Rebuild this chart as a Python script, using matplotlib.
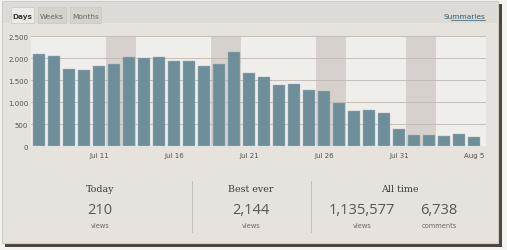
import matplotlib.pyplot as plt
import matplotlib.patches as mpatches
import numpy as np

# daily views, Jul 7 .. Aug 5
days = ["Jul 7", "Jul 8", "Jul 9", "Jul 10", "Jul 11", "Jul 12", "Jul 13", "Jul 14",
        "Jul 15", "Jul 16", "Jul 17", "Jul 18", "Jul 19", "Jul 20", "Jul 21", "Jul 22",
        "Jul 23", "Jul 24", "Jul 25", "Jul 26", "Jul 27", "Jul 28", "Jul 29", "Jul 30",
        "Jul 31", "Aug 1", "Aug 2", "Aug 3", "Aug 4", "Aug 5"]
views = [2090, 2052, 1740, 1725, 1824, 1862, 2014, 1999, 2014, 1938,
         1938, 1809, 1854, 2144, 1660, 1566, 1383, 1406, 1269, 1254,
         988, 790, 821, 760, 388, 243, 251, 236, 266, 210]
weekend_days = ["Jul 12", "Jul 13", "Jul 19", "Jul 20", "Jul 26", "Jul 27", "Aug 1", "Aug 2"]
tick_days = ["Jul 11", "Jul 16", "Jul 21", "Jul 26", "Jul 31", "Aug 5"]
y_ticks = [0, 500, 1000, 1500, 2000, 2500]
y_labels = ["0", "500", "1.000", "1.500", "2.000", "2.500"]

tabs = ["Days", "Weeks", "Months"]
stat_heads = ["Today", "Best ever", "All time"]
stat_values = ["210", "2,144", "1,135,577", "6,738"]
stat_units = ["views", "views", "views", "comments"]

W, H = 507, 251
bg = "#e6e3de"
plot_bg = "#f0eeeb"
bar_color = "#6e8e9a"
shade = "#d6d1cc"
text_c = "#555049"

fig = plt.figure(figsize=(W / 100, H / 100), dpi=100)
fig.patch.set_facecolor("#f4f3f1")


def px_rect(x0, y0, x1, y1, **kw):
    # rectangle in pixel coords measured from the top-left corner
    r = mpatches.Rectangle((x0 / W, 1 - y1 / H), (x1 - x0) / W, (y1 - y0) / H,
                           transform=fig.transFigure, **kw)
    fig.add_artist(r)
    return r


def px_text(x, y, s, **kw):
    fig.text(x / W, 1 - y / H, s, **kw)


# panel with dark shadow on right/bottom
px_rect(5, 5, 502, 248, facecolor="#4a4540", edgecolor="none", zorder=0)
px_rect(2, 2, 498, 244, facecolor=bg, edgecolor="#cfcac4", linewidth=0.8, zorder=1)
# tab bar
px_rect(3, 3, 497, 24, facecolor="#dedad5", edgecolor="none", zorder=1)
tab_x = [(11, 34), (38, 66), (70, 101)]
for (x0, x1), name in zip(tab_x, tabs):
    fc = "#eeebe7" if name == "Days" else "#d6d2cc"
    px_rect(x0, 8, x1, 24, facecolor=fc, edgecolor="#cbc6c0", linewidth=0.5, zorder=2)
    px_text((x0 + x1) / 2, 17, name, ha="center", va="center", fontsize=5.3,
            color="#3e3a36" if name == "Days" else "#6b6660",
            fontweight="bold" if name == "Days" else "normal", zorder=3)
px_text(485, 17, "Summaries", ha="right", va="center", fontsize=5.3,
        color="#2f5a6e", zorder=3)
fig.add_artist(plt.Line2D([451 / W, 485 / W], [1 - 20.5 / H] * 2,
                          transform=fig.transFigure, color="#2f5a6e", linewidth=0.5, zorder=3))

# bar chart
ax = fig.add_axes([31 / W, 1 - 147 / H, (486 - 31) / W, (147 - 37) / H])
ax.set_zorder(2)
ax.set_facecolor(plot_bg)
x = np.arange(len(days))
for d in weekend_days:
    i = days.index(d)
    ax.axvspan(i - 0.5, i + 0.5, color=shade, linewidth=0, zorder=0)
for t in y_ticks[1:]:
    ax.axhline(t, color="#bfb8b0", linewidth=0.6, zorder=1)
ax.bar(x, views, width=0.86, color=bar_color, edgecolor="#9fb4bc", linewidth=0.3, zorder=2)
ax.set_xlim(-0.53, len(days) - 0.2)
ax.set_ylim(0, 2500)
ax.set_yticks(y_ticks)
ax.set_yticklabels(y_labels)
ax.set_xticks([days.index(d) for d in tick_days])
ax.set_xticklabels(tick_days)
ax.tick_params(length=0, labelsize=5, labelcolor=text_c, pad=2)
ax.tick_params(axis="x", pad=4)
for s in ax.spines.values():
    s.set_visible(False)
ax.axhline(0, color="#bdb7b0", linewidth=0.6, zorder=3)

# summary stats
for xs in (192, 311):
    fig.add_artist(plt.Line2D([xs / W] * 2, [1 - 182 / H, 1 - 233 / H],
                              transform=fig.transFigure, color="#c3beb8", linewidth=0.7, zorder=3))
head_x = [100, 251, 400]
for hx, h in zip(head_x, stat_heads):
    px_text(hx, 190, h, ha="center", va="center", fontsize=6.8, family="DejaVu Serif",
            color="#3e3a36", zorder=3)
val_x = [100, 251, 362, 439]
for vx, v, u in zip(val_x, stat_values, stat_units):
    px_text(vx, 210, v, ha="center", va="center", fontsize=10.5, family="Open Sans",
            color="#5a554f", zorder=3)
    px_text(vx, 226, u, ha="center", va="center", fontsize=4.8, color="#6b6660", zorder=3)

fig.savefig("out.png", dpi=100, facecolor=fig.get_facecolor())
